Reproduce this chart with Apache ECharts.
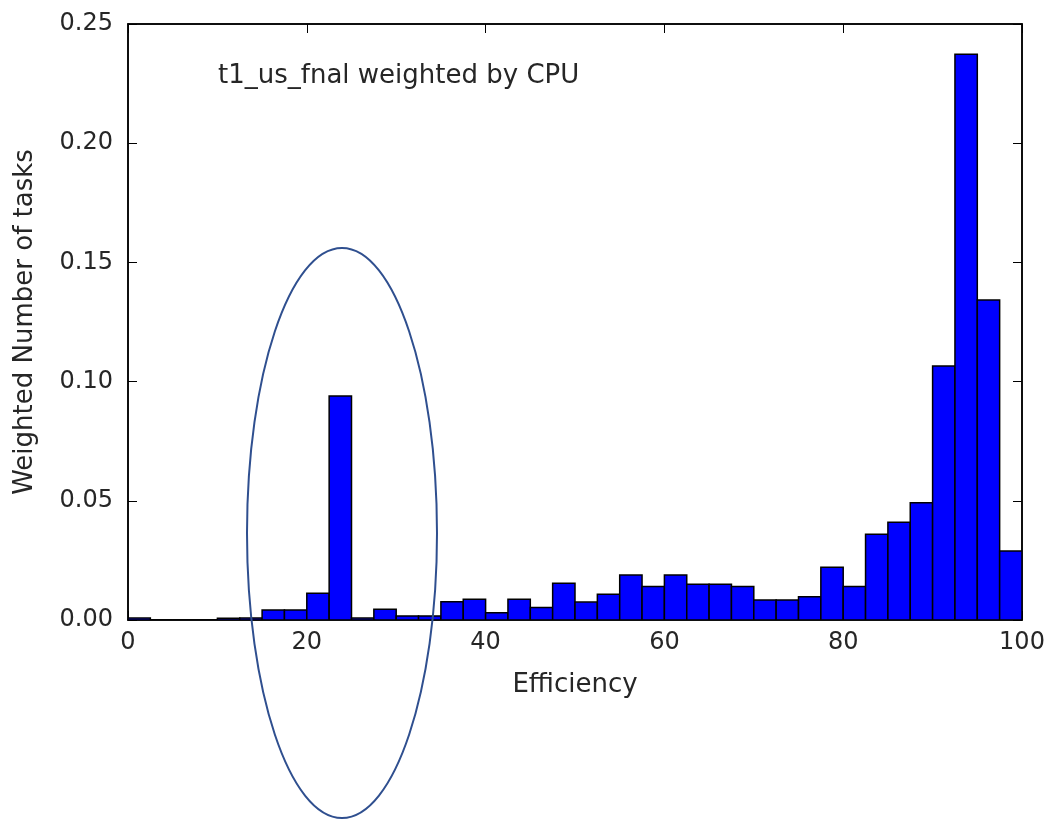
<!DOCTYPE html>
<html>
<head>
<meta charset="utf-8">
<script src="https://cdn.jsdelivr.net/npm/echarts@6/dist/echarts.min.js"></script>
<style>
  html, body { margin: 0; padding: 0; background: #fff; }
  #chart { width: 1048px; height: 819px; }
</style>
</head>
<body>
<div id="chart"></div>
<script>
// histogram bins: 40 bins of width 2.5 between 0 and 100
const binEdges = [0, 2.5, 5, 7.5, 10, 12.5, 15, 17.5, 20, 22.5, 25, 27.5, 30, 32.5, 35, 37.5, 40,
  42.5, 45, 47.5, 50, 52.5, 55, 57.5, 60, 62.5, 65, 67.5, 70, 72.5, 75, 77.5, 80,
  82.5, 85, 87.5, 90, 92.5, 95, 97.5, 100];
const weights = [0.0008, 0, 0, 0, 0.0007, 0.0008, 0.0042, 0.0042, 0.0112, 0.094,
  0.0008, 0.0045, 0.0017, 0.0017, 0.0077, 0.0087, 0.003, 0.0087, 0.0052, 0.0154,
  0.0075, 0.0108, 0.0189, 0.014, 0.0189, 0.015, 0.015, 0.014, 0.0084, 0.0084,
  0.0098, 0.0221, 0.014, 0.036, 0.041, 0.0492, 0.1065, 0.2373, 0.1342, 0.0289];
const xTicks = [0, 20, 40, 60, 80, 100];
const yTicks = [0, 0.05, 0.10, 0.15, 0.20, 0.25];
const label = 't1_us_fnal weighted by CPU';

const font = 'DejaVu Sans';
const txt = '#262626';

const bins = weights.map((w, i) => [binEdges[i], binEdges[i + 1], w]);

const chart = echarts.init(document.getElementById('chart'));

const tickStyle = { show: true, inside: true, length: 9, lineStyle: { color: '#000', width: 1 } };
const lineStyle = { show: true, onZero: false, lineStyle: { color: '#000', width: 1.5 } };

chart.setOption({
  animation: false,
  backgroundColor: '#fff',
  grid: { left: 128, right: 26, top: 24, bottom: 199, show: true, borderColor: '#000', borderWidth: 1.5 },
  xAxis: [{
    type: 'value', min: 0, max: 100, interval: 20,
    name: 'Efficiency', nameLocation: 'middle', nameGap: 52,
    nameTextStyle: { fontFamily: font, fontSize: 26, color: txt },
    axisLine: lineStyle,
    axisTick: tickStyle,
    axisLabel: { fontFamily: font, fontSize: 24, color: txt, margin: 11,
      formatter: v => xTicks.includes(v) ? String(v) : '' },
    splitLine: { show: false }
  }, {
    type: 'value', min: 0, max: 100, interval: 20, position: 'top',
    axisLine: lineStyle, axisTick: tickStyle, axisLabel: { show: false }, splitLine: { show: false }
  }],
  yAxis: [{
    type: 'value', min: 0, max: 0.25, interval: 0.05,
    name: 'Weighted Number of tasks', nameLocation: 'middle', nameGap: 90,
    nameTextStyle: { fontFamily: font, fontSize: 26, color: txt },
    axisLine: lineStyle,
    axisTick: tickStyle,
    axisLabel: { fontFamily: font, fontSize: 24, color: txt, margin: 15,
      formatter: v => yTicks.some(t => Math.abs(t - v) < 1e-9) ? v.toFixed(2) : '' },
    splitLine: { show: false }
  }, {
    type: 'value', min: 0, max: 0.25, interval: 0.05, position: 'right',
    axisLine: lineStyle, axisTick: tickStyle, axisLabel: { show: false }, splitLine: { show: false }
  }],
  series: [{
    type: 'custom',
    xAxisIndex: 0, yAxisIndex: 0,
    data: bins,
    clip: true,
    renderItem: (params, api) => {
      const p0 = api.coord([api.value(0), api.value(2)]);
      const p1 = api.coord([api.value(1), 0]);
      return {
        type: 'rect',
        shape: { x: p0[0], y: p0[1], width: p1[0] - p0[0], height: p1[1] - p0[1] },
        style: { fill: '#0000ff', stroke: '#000', lineWidth: 1.5 }
      };
    }
  }],
  graphic: [{
    type: 'text', left: 218, top: 63,
    style: { text: label, fontFamily: font, fontSize: 26, fill: txt }
  }, {
    type: 'ellipse',
    shape: { cx: 342, cy: 533, rx: 95, ry: 285 },
    style: { fill: 'none', stroke: '#2f4f8f', lineWidth: 2 },
    z: 100
  }]
});
</script>
</body>
</html>
